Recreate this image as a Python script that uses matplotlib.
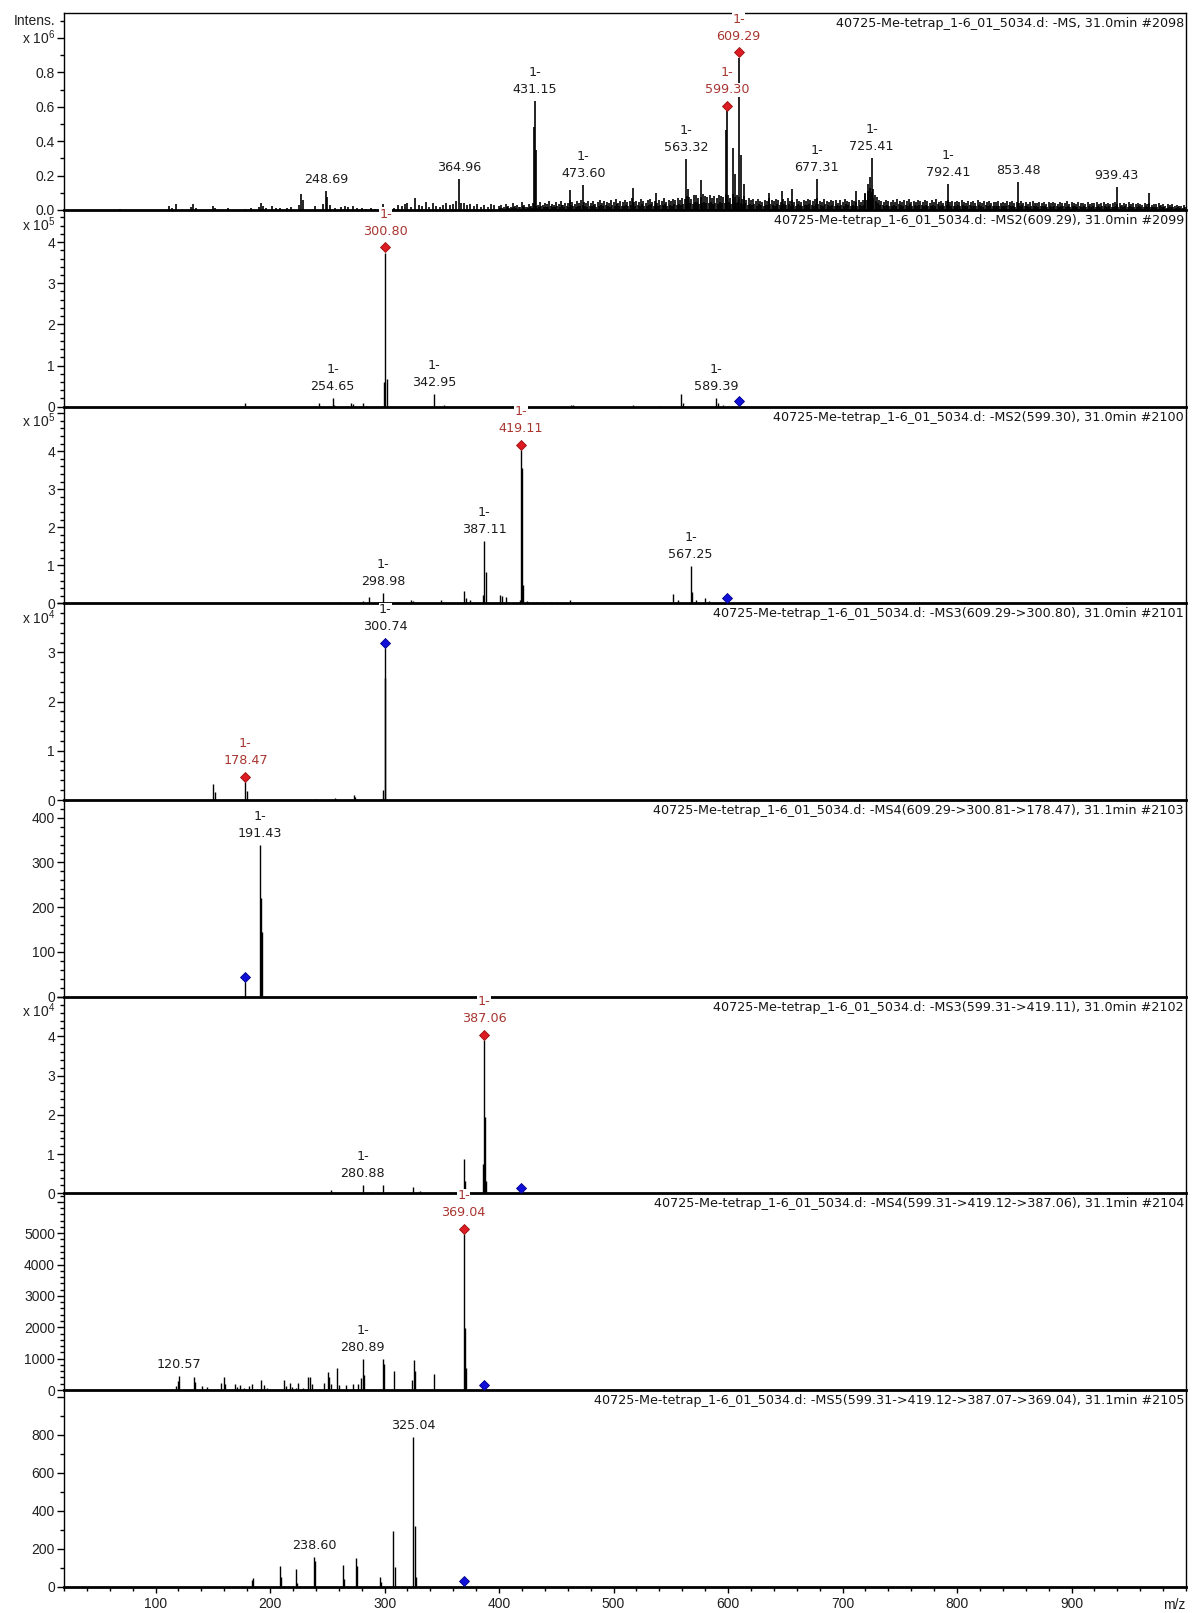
import numpy as np
import matplotlib.pyplot as plt
from matplotlib import transforms
from matplotlib.ticker import MultipleLocator, FixedLocator, FuncFormatter

plt.rcParams['font.family'] = ['DejaVu Sans']
plt.rcParams['mathtext.fontset'] = 'custom'
plt.rcParams['mathtext.rm'] = 'Liberation Sans'

RUN = "40725-Me-tetrap_1-6_01_5034.d: "

# ---------------- full scan MS (#2098), intensities in 1000 counts ----------------
ms1_peaks_k = [
    (69, 8), (112, 25), (114, 12), (118, 35), (131, 15), (133, 32), (135, 10),
    (150, 22), (152, 10), (163, 12), (178, 8), (183, 14), (190, 20), (192, 42),
    (194, 25), (196, 12), (202, 22), (205, 10), (209, 14), (215, 10), (218, 20),
    (225, 30), (227, 95), (229, 60), (239, 22), (246, 35), (248.69, 112), (250, 75),
    (252, 30), (257, 10), (262, 20), (265, 25), (268, 15), (272, 22), (276, 14),
    (280, 10), (284, 8), (288, 12), (292, 8), (296, 15), (299, 32), (302, 20),
    (308, 12), (312, 28), (315, 22), (318, 35), (320, 40), (323, 20), (327, 68),
    (330, 30), (333, 25), (336, 45), (339, 20), (342, 40), (345, 22), (348, 18),
    (351, 30), (354, 42), (357, 28), (360, 35), (362, 50), (364.96, 178), (367, 40),
    (369, 38), (372, 30), (375, 36), (378, 25), (381, 32), (384, 20), (387, 28),
    (390, 18), (393, 35), (396, 30),
    (430.4, 480), (431.15, 636), (432.2, 350), (461.6, 116), (473.60, 145),
    (517, 126), (537, 100), (563.32, 295), (565, 120), (576, 175), (598.6, 465),
    (599.30, 575), (604, 358), (606, 210), (609.29, 885), (611, 320), (614, 150),
    (636, 100), (647, 110), (656, 120), (677.31, 178), (712, 110), (720, 100),
    (722, 150), (724, 190), (725.41, 304), (727, 120), (792.41, 150),
    (853.48, 165), (939.43, 136), (968, 100),
]
# low level signal at even m/z, 400 to 998 (1000 counts)
ms1_noise_even_k = [
    22, 30, 16, 35, 26, 18, 40, 24, 30, 15, 44, 28, 20, 34, 26, 38, 22, 30, 45, 28,
    40, 32, 52, 36, 28, 46, 34, 55, 30, 42, 38, 60, 44, 35, 50, 40, 58, 46, 38, 50,
    42, 55, 36, 48, 60, 40, 52, 45, 38, 56, 48, 62, 40, 50, 44, 58, 46, 52, 70, 48,
    55, 44, 62, 50, 40, 58, 66, 48, 54, 42, 60, 52, 68, 46, 58, 50, 64, 56, 72, 60,
    70, 62, 80, 75, 66, 85, 90, 70, 78, 95, 82, 74, 88, 68, 80, 72, 90, 84, 76, 92,
    85, 70, 95, 78, 88, 75, 65, 80, 60, 72, 58, 66, 50, 62, 55, 48, 60, 52, 70, 58,
    50, 64, 56, 45, 62, 54, 68, 50, 58, 46, 62, 55, 48, 60, 52, 66, 58, 50, 62, 70,
    55, 48, 64, 52, 45, 60, 50, 56, 42, 58, 48, 62, 52, 46, 58, 50, 44, 56, 48, 60,
    95, 110, 130, 105, 90, 75, 60, 52, 46, 58, 50, 44, 56, 48, 62, 52, 45, 58, 50, 64,
    48, 55, 44, 60, 52, 46, 58, 50, 42, 56, 48, 62, 46, 54, 40, 52, 58, 44, 50, 46,
    52, 44, 58, 48, 40, 55, 46, 50, 42, 56, 45, 38, 52, 46, 54, 40, 48, 44, 50, 42,
    48, 40, 54, 44, 50, 38, 46, 42, 52, 40, 48, 36, 44, 50, 42, 38, 46, 40, 48, 36,
    44, 38, 48, 40, 34, 46, 42, 38, 50, 36, 44, 40, 32, 46, 38, 42, 36, 48, 34, 40,
    38, 44, 34, 40, 46, 36, 42, 32, 38, 44, 36, 40, 30, 42, 36, 46, 34, 38, 32, 40,
    36, 30, 42, 34, 38, 28, 36, 32, 40, 30, 34, 26, 36, 30, 32, 24, 30, 26, 22, 28,
]
# same at odd m/z, 401 to 999
ms1_noise_odd_k = [
    10, 14, 8, 18, 12, 9, 20, 13, 16, 8, 22, 15, 11, 18, 14, 20, 12, 16, 24, 15,
    20, 17, 26, 19, 15, 24, 18, 28, 16, 22, 20, 30, 23, 18, 26, 21, 30, 24, 20, 26,
    22, 28, 19, 25, 31, 21, 27, 23, 20, 29, 25, 32, 21, 26, 23, 30, 24, 27, 36, 25,
    28, 23, 32, 26, 21, 30, 34, 25, 28, 22, 31, 27, 35, 24, 30, 26, 33, 29, 37, 31,
    36, 32, 41, 38, 34, 44, 46, 36, 40, 48, 42, 38, 45, 35, 41, 37, 46, 43, 39, 47,
    44, 36, 49, 40, 45, 39, 34, 41, 31, 37, 30, 34, 26, 32, 28, 25, 31, 27, 36, 30,
    26, 33, 29, 23, 32, 28, 35, 26, 30, 24, 32, 28, 25, 31, 27, 34, 30, 26, 32, 36,
    28, 25, 33, 27, 23, 31, 26, 29, 22, 30, 25, 32, 27, 24, 30, 26, 23, 29, 25, 31,
    60, 75, 85, 70, 55, 40, 31, 27, 24, 30, 26, 23, 29, 25, 32, 27, 23, 30, 26, 33,
    25, 28, 23, 31, 27, 24, 30, 26, 22, 29, 25, 32, 24, 28, 21, 27, 30, 23, 26, 24,
    27, 23, 30, 25, 21, 28, 24, 26, 22, 29, 23, 20, 27, 24, 28, 21, 25, 23, 26, 22,
    25, 21, 28, 23, 26, 20, 24, 22, 27, 21, 25, 19, 23, 26, 22, 20, 24, 21, 25, 19,
    23, 20, 25, 21, 18, 24, 22, 20, 26, 19, 23, 21, 17, 24, 20, 22, 19, 25, 18, 21,
    20, 23, 18, 21, 24, 19, 22, 17, 20, 23, 19, 21, 16, 22, 19, 24, 18, 20, 17, 21,
    19, 16, 22, 18, 20, 15, 19, 17, 21, 16, 18, 14, 19, 16, 17, 13, 16, 14, 12, 15,
]
ms1_labels = [(248.69, "", False), (364.96, "", False), (431.15, "1-", False),
              (473.60, "1-", False), (563.32, "1-", False), (599.30, "1-", True),
              (609.29, "1-", True), (677.31, "1-", False), (725.41, "1-", False),
              (792.41, "1-", False), (853.48, "", False), (939.43, "", False)]

# ---------------- MS2 of 609.29 (#2099) ----------------
ms2a_peaks = [
    (178.0, 10000), (243, 8000), (254.65, 20000), (256, 5000), (270.5, 8000),
    (272, 6000), (281, 9000), (299.8, 60000), (300.80, 374000), (301.8, 68000),
    (342.95, 30000), (352, 3000), (417.7, 4000), (463, 3000), (465, 3000),
    (517, 3000), (541, 2000), (559.3, 30000), (561, 10000), (589.39, 22000),
    (591, 8000), (596, 3000),
]
ms2a_labels = [(254.65, "1-", False), (300.80, "1-", True), (342.95, "1-", False),
               (589.39, "1-", False)]

# ---------------- MS2 of 599.30 (#2100) ----------------
ms2b_peaks = [
    (169, 1500), (177, 2000), (212, 1500), (235, 1500), (260, 4000), (269, 3000),
    (281, 7000), (286, 16000), (298.98, 28000), (312, 3000), (323, 10000),
    (325, 6000), (349, 10000), (351, 4000), (369, 33000), (371, 13000), (375, 9000),
    (386.4, 22000), (387.11, 163000), (388.2, 83000), (400.6, 22000), (403, 18000),
    (406, 16000), (418.4, 10000), (419.11, 403000), (420.0, 356000), (421, 48000),
    (424, 7000), (432, 3000), (438, 3000), (445, 3000), (451, 3000), (461.8, 10000),
    (552, 25000), (556, 8000), (567.25, 99000), (568.5, 30000), (572, 8000),
    (580, 15000), (583, 5000),
]
ms2b_labels = [(298.98, "1-", False), (387.11, "1-", False), (419.11, "1-", True),
               (567.25, "1-", False)]

# ---------------- MS3 609.29->300.80 (#2101) ----------------
ms3a_peaks = [
    (150.5, 3200), (151.5, 1700), (178.47, 3600), (179.5, 1900), (239, 300),
    (257, 500), (273, 1000), (274, 600), (298.5, 2000), (300.0, 24900),
    (300.74, 30900),
]
ms3a_labels = [(178.47, "1-", True), (300.74, "1-", False)]

# ---------------- MS4 609.29->300.81->178.47 (#2103) ----------------
ms4a_peaks = [(178.5, 32), (191.43, 339), (192.4, 220), (193.3, 144)]
ms4a_labels = [(191.43, "1-", False)]

# ---------------- MS3 599.31->419.11 (#2102) ----------------
ms3b_peaks = [
    (121, 200), (159, 200), (220, 150), (239, 200), (253, 900), (280.88, 2100),
    (288, 350), (298.5, 2100), (325, 1500), (331, 700), (357, 350), (369.2, 8700),
    (370.2, 3200), (386.4, 7500), (387.06, 39000), (387.9, 19500), (388.8, 3200),
]
ms3b_labels = [(280.88, "1-", False), (387.06, "1-", True)]

# ---------------- MS4 599.31->419.12->387.06 (#2104) ----------------
ms4b_peaks = [
    (117.7, 140), (119.8, 300), (120.57, 440), (133.3, 430), (134.5, 270),
    (140.5, 130), (145, 85), (157, 215), (159.4, 400), (160.6, 200), (169, 180),
    (171, 100), (174, 160), (177, 70), (182, 130), (184.6, 190), (192, 320),
    (194.5, 150), (197, 50), (212, 320), (213.5, 120), (217.7, 235), (219.5, 100),
    (222.5, 60), (224.6, 235), (229, 80), (232.7, 400), (235, 400), (237, 200),
    (247, 215), (250.3, 590), (251.8, 430), (253.3, 200), (258.6, 700), (260, 150),
    (266, 160), (272, 180), (277, 180), (279.5, 375), (280.89, 1000), (282.3, 480),
    (298.7, 1000), (299.8, 840), (308, 620), (324.3, 320), (325.7, 965),
    (326.8, 600), (343.6, 515), (369.04, 4960), (370.0, 1980), (371.0, 700),
]
ms4b_labels = [(120.57, "", False), (280.89, "1-", False), (369.04, "1-", True)]

# ---------------- MS5 599.31->419.12->387.07->369.04 (#2105) ----------------
ms5_peaks = [
    (183.9, 35), (185.2, 44), (208.3, 109), (209.5, 53), (222.3, 95), (223.5, 18),
    (238.60, 158), (239.6, 137), (263.4, 116), (264.6, 40), (275.1, 151),
    (276.3, 109), (295.8, 53), (297, 26), (307.5, 292), (308.7, 102),
    (325.04, 789), (326.2, 320), (327.4, 53),
]
ms5_labels = [(238.60, "", False), (325.04, "", False)]

ms1_peaks = [(m, k * 1000) for m, k in ms1_peaks_k]
ms1_peaks += [(m, k * 1000) for m, k in zip(range(400, 1000, 2), ms1_noise_even_k)]
ms1_peaks += [(m, k * 1000) for m, k in zip(range(401, 1000, 2), ms1_noise_odd_k)]

panels = [
    dict(title=RUN + "-MS, 31.0min #2098", peaks=ms1_peaks, labels=ms1_labels,
         prec=None, ytop=1.144e6, major=0.2e6, minor=0.1e6, exp=6, dec=1),
    dict(title=RUN + "-MS2(609.29), 31.0min #2099", peaks=ms2a_peaks, labels=ms2a_labels,
         prec=609.29, ytop=4.78e5, major=1e5, minor=0.2e5, exp=5, dec=0),
    dict(title=RUN + "-MS2(599.30), 31.0min #2100", peaks=ms2b_peaks, labels=ms2b_labels,
         prec=599.30, ytop=5.17e5, major=1e5, minor=0.2e5, exp=5, dec=0),
    dict(title=RUN + "-MS3(609.29->300.80), 31.0min #2101", peaks=ms3a_peaks,
         labels=ms3a_labels, prec=300.80, ytop=4.0e4, major=1e4, minor=0.2e4, exp=4, dec=0),
    dict(title=RUN + "-MS4(609.29->300.81->178.47), 31.1min #2103", peaks=ms4a_peaks,
         labels=ms4a_labels, prec=178.47, ytop=439.5, major=100, minor=20, exp=0, dec=0),
    dict(title=RUN + "-MS3(599.31->419.11), 31.0min #2102", peaks=ms3b_peaks,
         labels=ms3b_labels, prec=419.11, ytop=5.01e4, major=1e4, minor=0.2e4, exp=4, dec=0),
    dict(title=RUN + "-MS4(599.31->419.12->387.06), 31.1min #2104", peaks=ms4b_peaks,
         labels=ms4b_labels, prec=387.06, ytop=6270, major=1000, minor=200, exp=0, dec=0),
    dict(title=RUN + "-MS5(599.31->419.12->387.07->369.04), 31.1min #2105", peaks=ms5_peaks,
         labels=ms5_labels, prec=369.04, ytop=1035.7, major=200, minor=100, exp=0, dec=0),
]


def peak_height(peaks, x, tol):
    hs = [h for m, h in peaks if abs(m - x) <= tol]
    return max(hs) if hs else 0.0


W, H = 1192, 1613
fig = plt.figure(figsize=(W / 100, H / 100), dpi=100)

top_px, bot_px = 13.3, 1586.7
left_px, right_px = 64, 1186
ph = (bot_px - top_px) / len(panels)

tick_font = dict(family='Liberation Sans', size=10, color='#202020')
RED_TXT = '#a83530'
RED = '#dc1c22'
BLUE = '#1010d8'
white_box = dict(facecolor='white', edgecolor='none', pad=0.3)

for i, p in enumerate(panels):
    y0 = top_px + i * ph
    ax = fig.add_axes([left_px / W, 1 - (y0 + ph) / H, (right_px - left_px) / W, ph / H])
    ax.patch.set_visible(False)
    last = i == len(panels) - 1

    mz = np.array([m for m, h in p['peaks']])
    inten = np.array([h for m, h in p['peaks']])
    ax.vlines(mz, 0, inten, colors='black', linewidth=1.2 if i == 0 else 1.0, zorder=2)

    ax.set_xlim(20, 1000)
    ax.set_ylim(0, p['ytop'])

    for side in ['left', 'right', 'top']:
        ax.spines[side].set_linewidth(1.0)
    ax.spines['bottom'].set_linewidth(2.0)
    if i > 0:
        ax.spines['top'].set_visible(False)

    # y axis
    scale = 10.0 ** p['exp']
    hide_above = p['ytop'] * (1 - 12 / ph)
    if i == 0:
        hide_above = 0.9e6

    def fmt(v, pos, scale=scale, dec=p['dec'], hide=hide_above):
        if v > hide + 1e-9:
            return ''
        return f"{v / scale:.{dec}f}"

    ax.yaxis.set_major_locator(MultipleLocator(p['major']))
    ax.yaxis.set_minor_locator(MultipleLocator(p['minor']))
    ax.yaxis.set_major_formatter(FuncFormatter(fmt))
    ax.tick_params(axis='y', which='major', direction='out', length=5, width=1.0, pad=1.5)
    ax.tick_params(axis='y', which='minor', direction='out', length=3, width=1.0)
    for lab in ax.get_yticklabels():
        lab.set_fontfamily('Liberation Sans')
        lab.set_fontsize(10)
        lab.set_color('#202020')

    if p['exp']:
        if i == 0:
            ax.annotate(f"x 10$^{{{p['exp']}}}$", xy=(0, 1.0e6),
                        xycoords=('axes fraction', 'data'), xytext=(-9, 0),
                        textcoords='offset pixels', ha='right', va='center', **tick_font)
            ax.annotate("Intens.", xy=(0, 1.1e6), xycoords=('axes fraction', 'data'),
                        xytext=(-9, 0), textcoords='offset pixels', ha='right',
                        va='center', **tick_font)
        else:
            ax.annotate(f"x 10$^{{{p['exp']}}}$", xy=(0, 1), xycoords='axes fraction',
                        xytext=(-9, -14.5), textcoords='offset pixels', ha='right',
                        va='center', **tick_font)

    # x axis only on the bottom panel
    if last:
        ax.xaxis.set_major_locator(FixedLocator(range(100, 1000, 100)))
        ax.xaxis.set_minor_locator(MultipleLocator(20))
        ax.tick_params(axis='x', which='major', direction='out', length=4.3, width=1.0, pad=3)
        ax.tick_params(axis='x', which='minor', direction='out', length=3, width=1.0)
        for lab in ax.get_xticklabels():
            lab.set_fontfamily('Liberation Sans')
            lab.set_fontsize(10)
            lab.set_color('#202020')
        ax.annotate("m/z", xy=(1, 0), xycoords='axes fraction', xytext=(-1, -18),
                    textcoords='offset pixels', ha='right', va='center', **tick_font)
    else:
        ax.tick_params(axis='x', which='both', bottom=False, labelbottom=False)

    # scan description in the upper right corner
    ax.annotate(p['title'], xy=(1, 1), xycoords='axes fraction', xytext=(-2, -10.5),
                textcoords='offset pixels', ha='right', va='center', fontsize=9.2,
                color='#151515')

    # precursor marker (blue) and selected ions (red)
    mark_tr = transforms.offset_copy(ax.transData, fig=fig, x=0, y=5.5, units='dots')
    if p['prec'] is not None:
        h = peak_height(p['peaks'], p['prec'], 0.6)
        ax.plot(p['prec'], h, marker='D', ms=5.5, mfc=BLUE, mec='#00008a', mew=0.6,
                transform=mark_tr, clip_on=False, zorder=4)

    for x, charge, red in p['labels']:
        h = peak_height(p['peaks'], x, 0.3)
        marked = red or (p['prec'] is not None and abs(p['prec'] - x) < 0.6)
        if red:
            ax.plot(x, h, marker='D', ms=5.5, mfc=RED, mec='#9a1010', mew=0.6,
                    transform=mark_tr, clip_on=False, zorder=4)
        dy = 15 if marked else 5
        color = RED_TXT if red else '#1c1c1c'
        # m/z value, then the charge state on its own line above it
        for text, extra in [(f"{x:.2f}", 0), (charge, 17)]:
            if not text:
                continue
            tr = transforms.offset_copy(ax.transData, fig=fig, x=0, y=dy + extra,
                                        units='dots')
            ax.text(x, h, text, transform=tr, ha='center', va='bottom', fontsize=9.2,
                    color=color, zorder=5, clip_on=False, bbox=white_box)

fig.savefig('out.png', dpi=100)
